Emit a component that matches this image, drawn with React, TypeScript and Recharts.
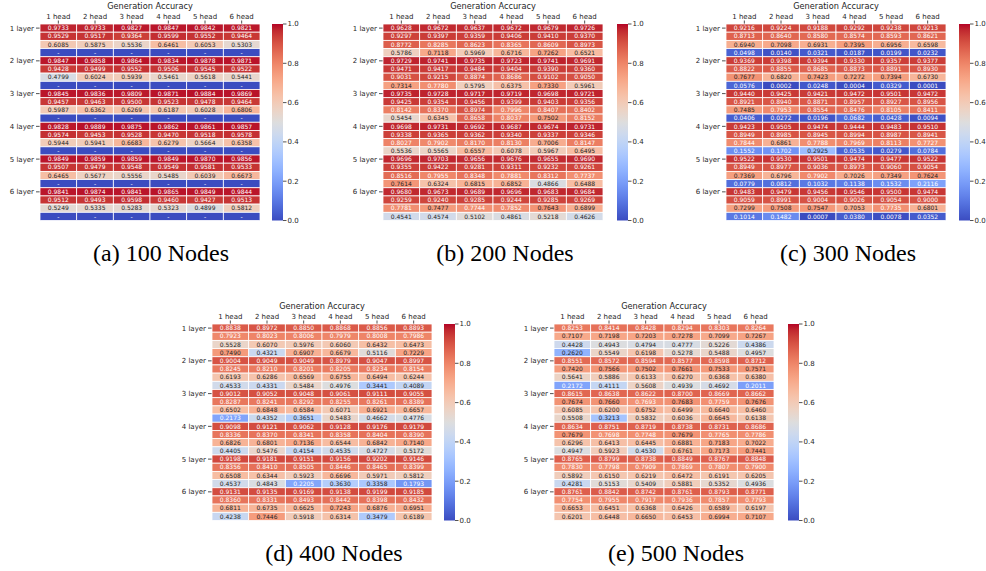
import React from 'react';
import { ScatterChart, Scatter, XAxis, YAxis, BarChart, Bar } from 'recharts';

const heads = ['1 head', '2 head', '3 head', '4 head', '5 head', '6 head'];
const layers = ['1 layer', '2 layer', '3 layer', '4 layer', '5 layer', '6 layer'];
const colorbarTicks = [0, 0.2, 0.4, 0.6, 0.8, 1.0];
const colorRange = [{ name: 'range', hi: 1 }];

// null = "-" (no value)
const nodes100: (number | null)[][] = [
  [0.9733, 0.9733, 0.9827, 0.9847, 0.9842, 0.9821],
  [0.9529, 0.9517, 0.9364, 0.9599, 0.9552, 0.9464],
  [0.6085, 0.5875, 0.5536, 0.6461, 0.6053, 0.5303],
  [null, null, null, null, null, null],
  [0.9847, 0.9858, 0.9864, 0.9834, 0.9878, 0.9871],
  [0.9428, 0.9499, 0.9552, 0.9506, 0.9545, 0.9522],
  [0.4799, 0.6024, 0.5939, 0.5461, 0.5618, 0.5441],
  [null, null, null, null, null, null],
  [0.9845, 0.9836, 0.9809, 0.9871, 0.9884, 0.9869],
  [0.9457, 0.9463, 0.9500, 0.9523, 0.9478, 0.9464],
  [0.5987, 0.6362, 0.6269, 0.6187, 0.6028, 0.6806],
  [null, null, null, null, null, null],
  [0.9828, 0.9889, 0.9875, 0.9862, 0.9861, 0.9857],
  [0.9574, 0.9453, 0.9528, 0.9470, 0.9518, 0.9578],
  [0.5944, 0.5941, 0.6683, 0.6279, 0.5664, 0.6358],
  [null, null, null, null, null, null],
  [0.9849, 0.9859, 0.9859, 0.9849, 0.9870, 0.9856],
  [0.9507, 0.9479, 0.9548, 0.9549, 0.9581, 0.9533],
  [0.6465, 0.5677, 0.5556, 0.5485, 0.6039, 0.6673],
  [null, null, null, null, null, null],
  [0.9841, 0.9874, 0.9841, 0.9865, 0.9849, 0.9844],
  [0.9512, 0.9493, 0.9598, 0.9460, 0.9427, 0.9513],
  [0.5249, 0.5335, 0.5283, 0.5323, 0.4899, 0.5812],
  [null, null, null, null, null, null],
];

const nodes200: (number | null)[][] = [
  [0.9628, 0.9672, 0.9637, 0.9672, 0.9679, 0.9726],
  [0.9297, 0.9397, 0.9359, 0.9406, 0.9410, 0.9370],
  [0.8772, 0.8285, 0.8623, 0.8365, 0.8609, 0.8973],
  [0.5786, 0.7118, 0.5969, 0.6716, 0.7262, 0.6521],
  [0.9729, 0.9741, 0.9735, 0.9723, 0.9741, 0.9691],
  [0.9471, 0.9417, 0.9484, 0.9404, 0.9390, 0.9360],
  [0.9031, 0.9215, 0.8874, 0.8686, 0.9102, 0.9050],
  [0.7314, 0.7780, 0.5795, 0.6375, 0.7330, 0.5961],
  [0.9735, 0.9728, 0.9717, 0.9719, 0.9698, 0.9721],
  [0.9425, 0.9354, 0.9456, 0.9399, 0.9403, 0.9356],
  [0.8142, 0.8370, 0.8974, 0.7996, 0.8407, 0.8402],
  [0.5454, 0.6345, 0.8658, 0.8037, 0.7502, 0.8152],
  [0.9698, 0.9731, 0.9692, 0.9687, 0.9674, 0.9731],
  [0.9338, 0.9365, 0.9362, 0.9340, 0.9337, 0.9346],
  [0.8027, 0.7902, 0.8170, 0.8130, 0.7006, 0.8147],
  [0.5536, 0.5565, 0.6557, 0.6078, 0.5967, 0.6495],
  [0.9696, 0.9703, 0.9656, 0.9676, 0.9655, 0.9690],
  [0.9355, 0.9422, 0.9281, 0.9311, 0.9232, 0.9261],
  [0.8516, 0.7955, 0.8348, 0.7881, 0.8312, 0.7737],
  [0.7614, 0.6324, 0.6815, 0.6852, 0.4866, 0.6488],
  [0.9680, 0.9673, 0.9689, 0.9696, 0.9683, 0.9684],
  [0.9259, 0.9240, 0.9285, 0.9244, 0.9285, 0.9269],
  [0.7781, 0.7477, 0.7744, 0.7852, 0.7643, 0.6899],
  [0.4541, 0.4574, 0.5102, 0.4861, 0.5218, 0.4626],
];

const nodes300: (number | null)[][] = [
  [0.9216, 0.9224, 0.9188, 0.9292, 0.9238, 0.9213],
  [0.8713, 0.8640, 0.8580, 0.8574, 0.8593, 0.8621],
  [0.6940, 0.7098, 0.6931, 0.7395, 0.6956, 0.6598],
  [0.0498, 0.0140, 0.0321, 0.0187, 0.0199, 0.0232],
  [0.9369, 0.9398, 0.9394, 0.9330, 0.9357, 0.9377],
  [0.8822, 0.8855, 0.8685, 0.8873, 0.8891, 0.8930],
  [0.7677, 0.6820, 0.7423, 0.7272, 0.7394, 0.6730],
  [0.0576, 0.0002, 0.0248, 0.0004, 0.0329, 0.0001],
  [0.9440, 0.9425, 0.9421, 0.9472, 0.9501, 0.9472],
  [0.8921, 0.8940, 0.8871, 0.8957, 0.8927, 0.8956],
  [0.7485, 0.7953, 0.8554, 0.8476, 0.8105, 0.8411],
  [0.0406, 0.0272, 0.0196, 0.0682, 0.0428, 0.0094],
  [0.9423, 0.9505, 0.9474, 0.9444, 0.9483, 0.9510],
  [0.8949, 0.8985, 0.8945, 0.8994, 0.8987, 0.8941],
  [0.7844, 0.6861, 0.7788, 0.7969, 0.8113, 0.7727],
  [0.1552, 0.1702, 0.2925, 0.0535, 0.0279, 0.0784],
  [0.9522, 0.9530, 0.9501, 0.9474, 0.9477, 0.9522],
  [0.8949, 0.8977, 0.9036, 0.8973, 0.9060, 0.9054],
  [0.7369, 0.6796, 0.7902, 0.7026, 0.7349, 0.7624],
  [0.0779, 0.0812, 0.1032, 0.1138, 0.1532, 0.2116],
  [0.9483, 0.9479, 0.9456, 0.9546, 0.9500, 0.9474],
  [0.9059, 0.8991, 0.9004, 0.9026, 0.9054, 0.9000],
  [0.7299, 0.7508, 0.7547, 0.7053, 0.7735, 0.6801],
  [0.1014, 0.1482, 0.0007, 0.0380, 0.0078, 0.0352],
];

const nodes400: (number | null)[][] = [
  [0.8838, 0.8972, 0.8850, 0.8868, 0.8856, 0.8893],
  [0.7923, 0.8023, 0.8006, 0.7979, 0.8008, 0.7986],
  [0.5528, 0.6070, 0.5976, 0.6060, 0.6432, 0.6473],
  [0.7490, 0.4321, 0.6907, 0.6679, 0.5116, 0.7229],
  [0.9004, 0.9049, 0.9049, 0.8979, 0.9047, 0.8997],
  [0.8245, 0.8210, 0.8201, 0.8205, 0.8234, 0.8154],
  [0.6193, 0.6286, 0.6569, 0.6755, 0.6494, 0.6244],
  [0.4533, 0.4331, 0.5484, 0.4976, 0.3441, 0.4089],
  [0.9012, 0.9052, 0.9048, 0.9061, 0.9111, 0.9055],
  [0.8287, 0.8241, 0.8292, 0.8255, 0.8261, 0.8389],
  [0.6502, 0.6848, 0.6584, 0.6071, 0.6921, 0.6657],
  [0.2173, 0.4352, 0.3651, 0.5483, 0.4662, 0.4776],
  [0.9098, 0.9121, 0.9062, 0.9128, 0.9176, 0.9179],
  [0.8336, 0.8370, 0.8341, 0.8358, 0.8404, 0.8390],
  [0.6826, 0.6801, 0.7136, 0.6544, 0.6842, 0.7140],
  [0.4405, 0.5476, 0.4154, 0.4535, 0.4727, 0.5172],
  [0.9198, 0.9181, 0.9151, 0.9156, 0.9202, 0.9146],
  [0.8356, 0.8410, 0.8505, 0.8446, 0.8465, 0.8399],
  [0.6508, 0.6344, 0.5923, 0.6696, 0.5971, 0.5812],
  [0.4537, 0.4843, 0.2205, 0.3630, 0.3358, 0.1793],
  [0.9131, 0.9135, 0.9169, 0.9138, 0.9199, 0.9185],
  [0.8360, 0.8331, 0.8493, 0.8442, 0.8398, 0.8432],
  [0.6811, 0.6735, 0.6625, 0.7243, 0.6876, 0.6951],
  [0.4238, 0.7446, 0.5918, 0.6314, 0.3479, 0.6189],
];

const nodes500: (number | null)[][] = [
  [0.8253, 0.8414, 0.8428, 0.8294, 0.8303, 0.8264],
  [0.7107, 0.7198, 0.7203, 0.7278, 0.7099, 0.7267],
  [0.4428, 0.4943, 0.4794, 0.4777, 0.5226, 0.4386],
  [0.2620, 0.5549, 0.6198, 0.5278, 0.5488, 0.4957],
  [0.8551, 0.8572, 0.8594, 0.8577, 0.8598, 0.8712],
  [0.7420, 0.7566, 0.7502, 0.7661, 0.7533, 0.7571],
  [0.5641, 0.5886, 0.6133, 0.6270, 0.6368, 0.6380],
  [0.2172, 0.4111, 0.5608, 0.4939, 0.4692, 0.2011],
  [0.8615, 0.8638, 0.8622, 0.8700, 0.8669, 0.8662],
  [0.7674, 0.7660, 0.7693, 0.7683, 0.7759, 0.7676],
  [0.6085, 0.6200, 0.6752, 0.6499, 0.6640, 0.6460],
  [0.5508, 0.3213, 0.5832, 0.6036, 0.6645, 0.6138],
  [0.8634, 0.8751, 0.8719, 0.8738, 0.8731, 0.8686],
  [0.7679, 0.7698, 0.7748, 0.7679, 0.7765, 0.7786],
  [0.6296, 0.6413, 0.6445, 0.6881, 0.7183, 0.7022],
  [0.4947, 0.5923, 0.4530, 0.6761, 0.7173, 0.7441],
  [0.8765, 0.8799, 0.8738, 0.8849, 0.8767, 0.8848],
  [0.7830, 0.7798, 0.7909, 0.7869, 0.7807, 0.7900],
  [0.5892, 0.6150, 0.6219, 0.6472, 0.6191, 0.6205],
  [0.4281, 0.5153, 0.5409, 0.5881, 0.5352, 0.4936],
  [0.8761, 0.8842, 0.8742, 0.8761, 0.8793, 0.8771],
  [0.7754, 0.7955, 0.7917, 0.7936, 0.7857, 0.7793],
  [0.6653, 0.6451, 0.6368, 0.6426, 0.6589, 0.6197],
  [0.6201, 0.6448, 0.6650, 0.6453, 0.6994, 0.7107],
];

// matplotlib "coolwarm" colormap (Moreland), 33 control points
const COOLWARM: number[][] = [
  [59, 76, 192], [68, 90, 204], [77, 104, 215], [87, 117, 225], [98, 130, 234],
  [108, 142, 241], [119, 154, 247], [130, 165, 251], [141, 176, 254], [152, 185, 255],
  [163, 194, 255], [174, 201, 253], [184, 208, 249], [194, 213, 244], [204, 217, 238],
  [213, 219, 230], [221, 221, 221], [229, 216, 209], [236, 211, 197], [241, 204, 185],
  [245, 196, 173], [247, 187, 160], [247, 177, 148], [247, 166, 135], [244, 154, 123],
  [241, 141, 111], [236, 127, 99], [229, 112, 88], [222, 96, 77], [213, 80, 66],
  [203, 62, 56], [192, 40, 47], [180, 4, 38],
];

function coolwarm(t: number): number[] {
  const x = Math.max(0, Math.min(1, t)) * (COOLWARM.length - 1);
  const i = Math.min(COOLWARM.length - 2, Math.floor(x));
  const f = x - i;
  const a = COOLWARM[i];
  const b = COOLWARM[i + 1];
  return [0, 1, 2].map((k) => a[k] + (b[k] - a[k]) * f);
}
const rgb = (c: number[]) => `rgb(${Math.round(c[0])},${Math.round(c[1])},${Math.round(c[2])})`;
function luminance(c: number[]): number {
  const lin = c.map((v) => {
    const s = v / 255;
    return s <= 0.03928 ? s / 12.92 : Math.pow((s + 0.055) / 1.055, 2.4);
  });
  return 0.2126 * lin[0] + 0.7152 * lin[1] + 0.0722 * lin[2];
}

const FONT = '"DejaVu Sans", sans-serif';
const TXT = '#262626';
const PW = 220;
const PH = 196.5;
const YW = 45;
const XH = 24;
const headTicks = [0.5, 1.5, 2.5, 3.5, 4.5, 5.5];
const layerTicks = [0.5, 4.5, 8.5, 12.5, 16.5, 20.5];

const panels = [
  { rows: nodes100, caption: '(a) 100 Nodes', left: 40, top: 24, cb: 272, capX: 161, capY: 253 },
  { rows: nodes200, caption: '(b) 200 Nodes', left: 383, top: 24, cb: 617, capX: 505, capY: 253 },
  { rows: nodes300, caption: '(c) 300 Nodes', left: 726, top: 24, cb: 959, capX: 848, capY: 253 },
  { rows: nodes400, caption: '(d) 400 Nodes', left: 212, top: 324, cb: 444, capX: 334, capY: 553 },
  { rows: nodes500, caption: '(e) 500 Nodes', left: 554, top: 324, cb: 788, capX: 676, capY: 553 },
];

const cellShape = (props: any) => {
  const { cx, cy, payload } = props;
  if (cx == null || cy == null) return <g />;
  const cw = PW / 6;
  const ch = PH / 24;
  const v: number | null = payload.v;
  const c = coolwarm(v == null ? 0 : v);
  const txt = v == null ? '-' : v.toFixed(4);
  return (
    <g>
      <rect x={cx - cw / 2} y={cy - ch / 2} width={cw} height={ch} fill={rgb(c)} stroke="#ffffff" strokeWidth={0.8} />
      <text x={cx} y={cy} dy="0.36em" textAnchor="middle" fontSize={6} fontFamily={FONT} fill={luminance(c) > 0.408 ? TXT : '#ffffff'}>
        {txt}
      </text>
    </g>
  );
};

function Heatmap({ rows, left, top }: { rows: (number | null)[][]; left: number; top: number }) {
  const points = rows.flatMap((r, ri) => r.map((v, ci) => ({ x: ci + 0.5, y: ri + 0.5, v })));
  return (
    <div style={{ position: 'absolute', left: left - YW, top: top - XH }}>
      <ScatterChart width={YW + PW + 2} height={XH + PH + 2} margin={{ top: 0, right: 2, bottom: 2, left: 0 }}>
        <XAxis
          type="number"
          dataKey="x"
          domain={[0, 6]}
          ticks={headTicks}
          interval={0}
          orientation="top"
          height={XH}
          axisLine={false}
          tickSize={3.5}
          tickMargin={2}
          tickLine={{ stroke: TXT, strokeWidth: 0.8 }}
          tick={{ fontSize: 7, fill: TXT, fontFamily: FONT }}
          tickFormatter={(v: number) => heads[Math.floor(v)]}
        />
        <YAxis
          type="number"
          dataKey="y"
          domain={[0, 24]}
          reversed
          ticks={layerTicks}
          interval={0}
          width={YW}
          axisLine={false}
          tickSize={4}
          tickMargin={2}
          tickLine={{ stroke: TXT, strokeWidth: 0.8 }}
          tick={{ fontSize: 7, fill: TXT, fontFamily: FONT }}
          tickFormatter={(v: number) => layers[Math.floor(v / 4)]}
        />
        <Scatter data={points} shape={cellShape} isAnimationActive={false} />
      </ScatterChart>
    </div>
  );
}

function ColorBar({ left, top, id }: { left: number; top: number; id: string }) {
  const cbw = 11;
  const axw = 22;
  const pad = 6;
  return (
    <div style={{ position: 'absolute', left, top: top - pad }}>
      <BarChart width={cbw + axw} height={PH + 2 * pad} data={colorRange} margin={{ top: pad, right: 0, bottom: pad, left: 0 }} barCategoryGap={0} barGap={0}>
        <defs>
          <linearGradient id={id} x1="0" y1="1" x2="0" y2="0">
            {COOLWARM.map((c, i) => (
              <stop key={i} offset={i / (COOLWARM.length - 1)} stopColor={rgb(c)} />
            ))}
          </linearGradient>
        </defs>
        <XAxis dataKey="name" hide />
        <YAxis
          orientation="right"
          type="number"
          domain={[0, 1]}
          ticks={colorbarTicks}
          interval={0}
          width={axw}
          axisLine={false}
          tickSize={3.5}
          tickMargin={1}
          tickLine={{ stroke: TXT, strokeWidth: 0.8 }}
          tick={{ fontSize: 7, fill: TXT, fontFamily: FONT, textAnchor: 'start' }}
          tickFormatter={(v: number) => v.toFixed(1)}
        />
        <Bar dataKey="hi" fill={`url(#${id})`} isAnimationActive={false} />
      </BarChart>
    </div>
  );
}

export default function App() {
  return (
    <div style={{ position: 'absolute', left: 0, top: 0, width: 986, height: 571, background: '#ffffff', overflow: 'hidden' }}>
      {panels.map((p, i) => (
        <React.Fragment key={i}>
          <div
            style={{
              position: 'absolute',
              left: p.left,
              top: p.top - 23.5,
              width: PW,
              height: 10,
              lineHeight: '10px',
              textAlign: 'center',
              fontFamily: FONT,
              fontSize: 8.2,
              color: TXT,
              whiteSpace: 'nowrap',
            }}
          >
            Generation Accuracy
          </div>
          <Heatmap rows={p.rows} left={p.left} top={p.top} />
          <ColorBar left={p.cb} top={p.top} id={`cw${i}`} />
          <div
            style={{
              position: 'absolute',
              left: p.capX - 100,
              top: p.capY - 14,
              width: 200,
              height: 28,
              lineHeight: '28px',
              textAlign: 'center',
              fontFamily: '"Liberation Serif", "Times New Roman", serif',
              fontSize: 24,
              color: '#000000',
              whiteSpace: 'nowrap',
            }}
          >
            {p.caption}
          </div>
        </React.Fragment>
      ))}
    </div>
  );
}
